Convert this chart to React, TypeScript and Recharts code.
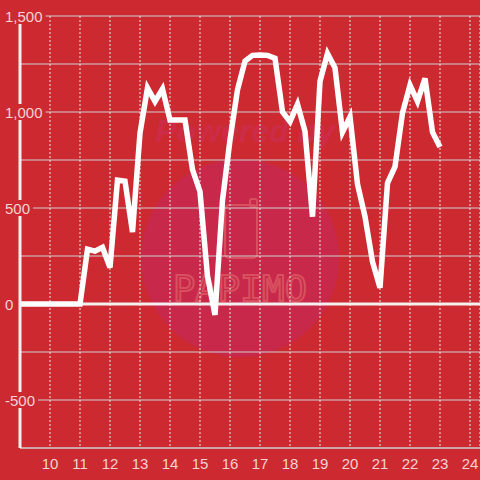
import React from "react";
import { LineChart, Line, XAxis, YAxis, CartesianGrid, ReferenceLine } from "recharts";

// hour of day (15-minute steps) and the value
const hours = [
  9, 9.25, 9.5, 9.75, 10, 10.25, 10.5, 10.75, 11, 11.25, 11.5, 11.75, 12, 12.25, 12.5, 12.75,
  13, 13.25, 13.5, 13.75, 14, 14.25, 14.5, 14.75, 15, 15.25, 15.5, 15.75, 16, 16.25, 16.5, 16.75,
  17, 17.25, 17.5, 17.75, 18, 18.25, 18.5, 18.75, 19, 19.25, 19.5, 19.75, 20, 20.25, 20.5, 20.75,
  21, 21.25, 21.5, 21.75, 22, 22.25, 22.5, 22.75, 23,
];
const values = [
  0, 0, 0, 0, 0, 0, 0, 0, 0, 285, 275, 295, 190, 645, 640, 375,
  890, 1125, 1055, 1120, 958, 958, 958, 700, 585, 145, -57, 540, 855, 1115, 1265, 1295,
  1297, 1295, 1280, 1000, 950, 1040, 900, 455, 1160, 1305, 1230, 895, 975, 625, 455, 220,
  85, 630, 715, 995, 1140, 1055, 1175, 895, 818,
];
const xTicks = [10, 11, 12, 13, 14, 15, 16, 17, 18, 19, 20, 21, 22, 23, 24];
const yTicks = [-750, -500, -250, 0, 250, 500, 750, 1000, 1250, 1500];
const yLabelled = [-500, 0, 500, 1000, 1500];

const data = hours.map((h, i) => ({ h, v: values[i] }));

const BG = "#cc2a30";
const LABEL = "#f3d2d4";
const FONT = "'Liberation Sans', Arial, sans-serif";

function fmt(v: number) {
  return v.toLocaleString("en-US");
}

function textWidth(s: string) {
  let w = 0;
  for (const c of s) w += c === "," ? 4.2 : c === "-" ? 5 : 8.34;
  return w;
}

function YTick(props: any) {
  const { y, payload } = props;
  if (!yLabelled.includes(payload.value)) return <g />;
  const label = fmt(payload.value);
  return (
    <g>
      <rect x={1} y={y - 8} width={textWidth(label) + 7} height={16} fill={BG} />
      <text x={5} y={y + 5.5} fill={LABEL} fontSize={15} fontFamily={FONT}>
        {label}
      </text>
    </g>
  );
}

function XTick(props: any) {
  const { x, payload } = props;
  return (
    <text x={x} y={469} textAnchor="middle" fill={LABEL} fontSize={15} fontFamily={FONT}>
      {payload.value}
    </text>
  );
}

function Watermark() {
  return (
    <svg width={480} height={480} style={{ position: "absolute", left: 0, top: 0 }}>
      <circle cx={240} cy={258} r={99} fill="#c8284a" />
      <text
        x={245}
        y={142}
        textAnchor="middle"
        fontSize={32}
        fontWeight="bold"
        fontStyle="italic"
        fontFamily={FONT}
        fill="#cd2c48"
      >
        Powered by
      </text>
      <rect x={225} y={205} width={32} height={53} rx={4} fill="none" stroke="#d8505f" strokeWidth={2} />
      <rect x={250} y={199} width={7} height={8} rx={2} fill="none" stroke="#d8505f" strokeWidth={2} />
      <text
        x={173}
        y={301}
        textLength={134}
        lengthAdjust="spacingAndGlyphs"
        fontSize={36}
        fontFamily="'DejaVu Sans Mono', monospace"
        fill="none"
        stroke="#d8505f"
        strokeWidth={2}
      >
        PAPIMO
      </text>
    </svg>
  );
}

export default function App() {
  return (
    <div style={{ position: "absolute", left: 0, top: 0, width: 480, height: 480, background: BG }}>
      <Watermark />
      <div style={{ position: "absolute", left: 0, top: 0 }}>
        <LineChart width={480} height={480} data={data} margin={{ top: 16, right: 0, bottom: 0, left: 0 }}>
          <CartesianGrid vertical={false} stroke="#cfcfcf" strokeWidth={1} />
          <CartesianGrid horizontal={false} stroke="#e6e6e6" strokeDasharray="2 2" strokeWidth={1} />
          <XAxis
            dataKey="h"
            type="number"
            domain={[9, 24.3333]}
            ticks={xTicks}
            allowDataOverflow
            height={32}
            stroke="#cfcfcf"
            tickLine={false}
            tick={<XTick />}
            interval={0}
          />
          <YAxis
            type="number"
            domain={[-750, 1500]}
            ticks={yTicks}
            width={20}
            axisLine={{ stroke: "#f4f0f0", strokeWidth: 3 }}
            tickLine={false}
            tick={<YTick />}
            interval={0}
          />
          <ReferenceLine y={0} stroke="#f4f0f0" strokeWidth={3} />
          <Line
            type="linear"
            dataKey="v"
            stroke="#ffffff"
            strokeWidth={5.5}
            dot={false}
            activeDot={false}
            isAnimationActive={false}
          />
        </LineChart>
      </div>
    </div>
  );
}
